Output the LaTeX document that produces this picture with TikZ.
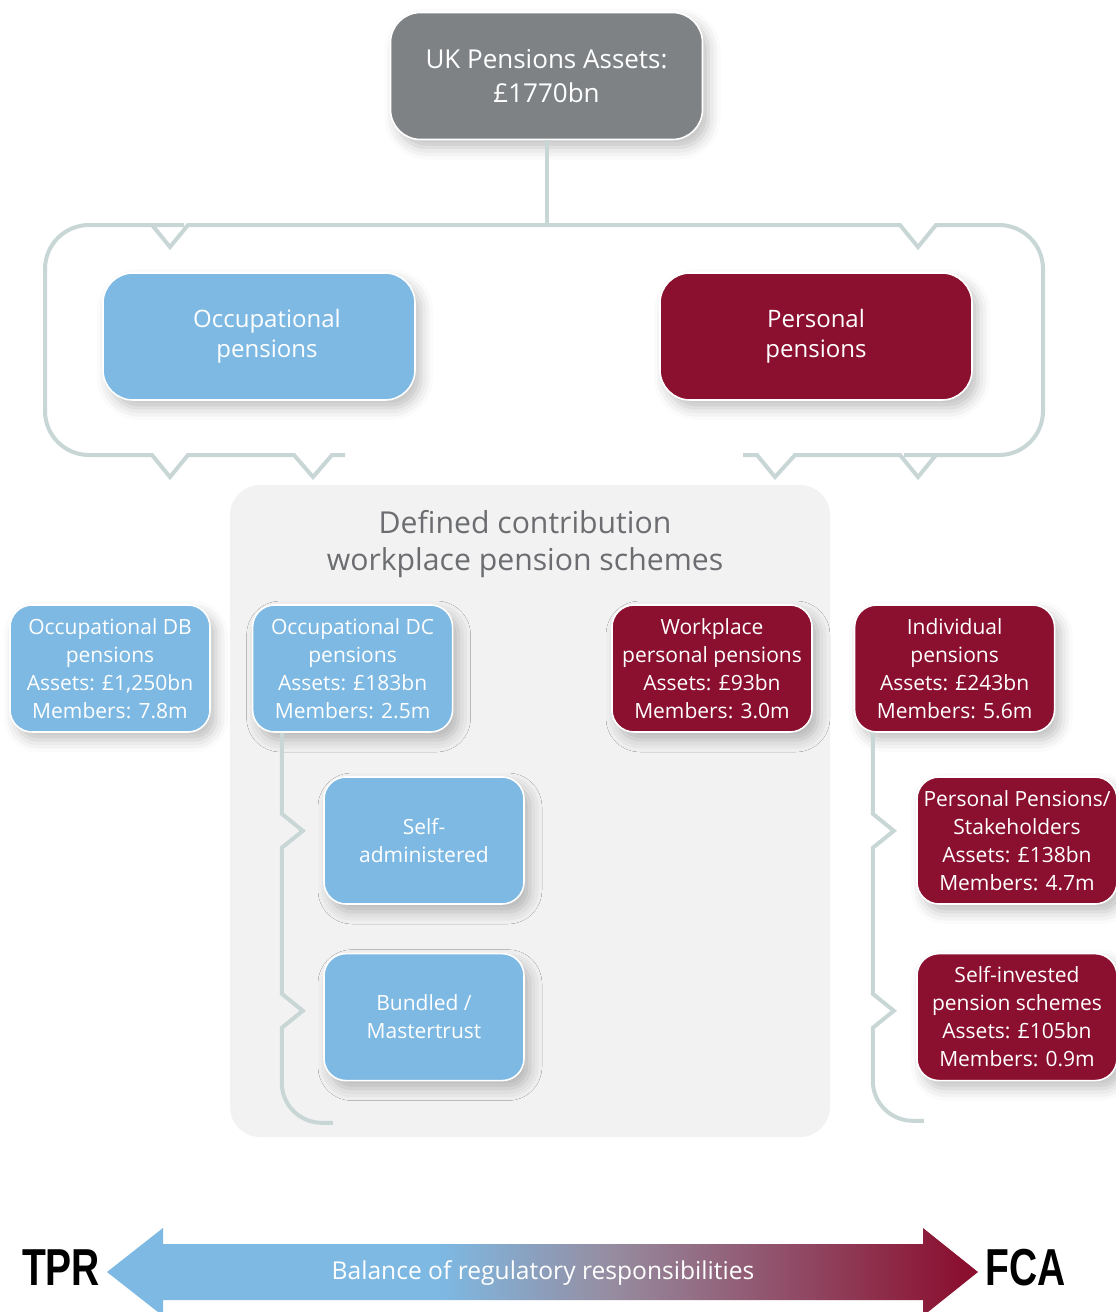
\documentclass[tikz,border=0pt]{standalone}
\usepackage{fontspec}
\setmainfont{Open Sans}
\newfontfamily\regfont[FakeStretch=0.75]{Liberation Sans}
\usepackage{tikz}
\usetikzlibrary{positioning,shadows.blur}

\definecolor{pblue}{RGB}{125,185,227}
\definecolor{pred}{RGB}{139,16,48}
\definecolor{pgray}{RGB}{127,130,133}
\definecolor{pmauve}{RGB}{150,140,160}
\definecolor{bracegray}{RGB}{201,214,214}
\definecolor{panelgray}{RGB}{242,242,242}
\definecolor{titlegray}{RGB}{108,109,112}

\pgfdeclarehorizontalshading{regshade}{100bp}{color(0bp)=(pblue); color(44bp)=(pblue); color(54bp)=(pmauve); color(74bp)=(pred); color(100bp)=(pred)}

\tikzset{
	pbox/.style={draw=white, line width=0.8pt, text=white, align=center, inner sep=2pt,
		blur shadow={shadow xshift=3pt, shadow yshift=-4pt, shadow blur radius=6pt, shadow opacity=25}},
	bigbox/.style={pbox, rounded corners=15pt, minimum width=156pt, minimum height=63.5pt, font=\fontsize{12}{15}\selectfont},
	smallbox/.style={pbox, rounded corners=11pt, minimum width=100pt, minimum height=63.5pt, font=\fontsize{10.5}{14}\selectfont},
	bluebox/.style={fill=pblue},
	redbox/.style={fill=pred},
	bracketline/.style={draw=bracegray, line width=2pt},
}

\begin{document}
\begin{tikzpicture}[x=0.5pt,y=-0.5pt]
	\useasboundingbox (0,0) rectangle (1115,1312);
	
	% grey panel for the DC workplace schemes
	\node[fill=panelgray, rounded corners=15pt, minimum width=300pt, minimum height=326pt] (panel) at (530,811) {};
	\node[font=\fontsize{15.1}{18.5}\selectfont, text=titlegray, align=center] (dctitle) at (525,544) {Defined contribution\\workplace pension schemes};
	
	% top
	\node[bigbox, fill=pgray, font=\fontsize{13}{17}\selectfont] at (546.5,76) (total) {UK Pensions Assets:\\\pounds1770bn};
	\node[bigbox, bluebox] at (259,336.5) (occ) {\hspace*{8pt}Occupational\\\hspace*{8pt}pensions};
	\node[bigbox, redbox] at (816,336.5) (pers) {Personal\\pensions};
	
	\coordinate (brtop) at (546.5,225);
	\draw[bracketline] (total.south) -- (brtop);
	\draw[bracketline] (345,455) -- (332,455) -- (313,477) -- (294,455) -- (188,455) -- (170,477) -- (152,455) -- (140,455)
		[rounded corners=22pt] -- (45,455) -- (45,225) -- (140,225) [sharp corners]
		-- (152,225) -- (170,247) -- (188,225) -- (900,225) -- (918,247) -- (936,225) -- (948,225)
		[rounded corners=22pt] -- (1043,225) -- (1043,455) -- (948,455) [sharp corners]
		-- (936,455) -- (918,477) -- (900,455) -- (795,455) -- (775,477) -- (757,455) -- (743,455);
	
	% second row
	\node[smallbox, bluebox] at (110,668.5) (db) {Occupational DB\\pensions\\Assets: \pounds1,250bn\\Members: 7.8m};
	\node[smallbox, bluebox, right=20.5pt of db] (dc) {Occupational DC\\pensions\\Assets: \pounds183bn\\Members: 2.5m};
	\node[smallbox, redbox] at (712,668.5) (wpp) {Workplace\\personal pensions\\Assets: \pounds93bn\\Members: 3.0m};
	\node[smallbox, redbox, right=20.5pt of wpp] (ind) {Individual\\pensions\\Assets: \pounds243bn\\Members: 5.6m};
	
	% sub-types
	\node[smallbox, bluebox] at (424,840.5) (selfadm) {Self-\\administered};
	\node[smallbox, bluebox, below=24pt of selfadm] (bundled) {Bundled /\\Mastertrust};
	\node[smallbox, redbox] at (1017,840.5) (pps) {Personal Pensions/\\Stakeholders\\Assets: \pounds138bn\\Members: 4.7m};
	\node[smallbox, redbox, below=24pt of pps] (sipp) {Self-invested\\pension schemes\\Assets: \pounds105bn\\Members: 0.9m};
	
	\draw[bracketline] ([xshift=15pt]dc.south west) -- ++(0,81) -- ++(21,17) -- ++(-21,17) -- ++(0,146) -- ++(21,17) -- ++(-21,17)
		[rounded corners=20pt] -- ++(0,95) -- ++(51,0);
	\draw[bracketline] ([xshift=9.5pt]ind.south west) -- ++(0,81) -- ++(21,17) -- ++(-21,17) -- ++(0,146) -- ++(21,17) -- ++(-21,17)
		[rounded corners=20pt] -- ++(0,93) -- ++(51,0);
	
	% regulator arrow
	\shade[shading=regshade] (107,1272) -- (163,1228) -- (163,1244) -- (923,1244) -- (923,1228) -- (978,1272)
		-- (923,1316) -- (923,1300) -- (163,1300) -- (163,1316) -- cycle;
	\node[text=white, font=\fontsize{12.3}{14}\selectfont] at (543,1273) (balance) {Balance of regulatory responsibilities};
	\node[font=\regfont\bfseries\fontsize{26}{26}\selectfont] at (61,1268) (tpr) {TPR};
	\node[font=\regfont\bfseries\fontsize{26}{26}\selectfont] at (1026,1268) (fca) {FCA};
\end{tikzpicture}
\end{document}
